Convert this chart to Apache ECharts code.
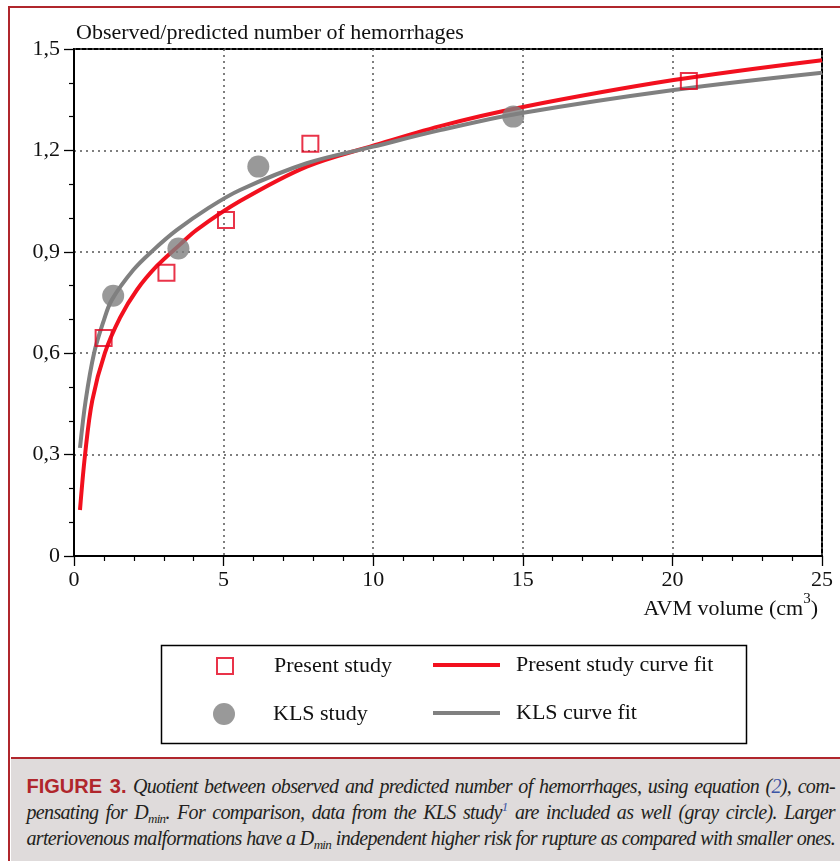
<!DOCTYPE html>
<html>
<head>
<meta charset="utf-8">
<script src="https://cdn.jsdelivr.net/npm/echarts@6/dist/echarts.min.js"></script>
<style>
  html, body { margin: 0; padding: 0; background: #ffffff; }
  #chart { position: absolute; left: 0; top: 0; width: 840px; height: 861px; }
  #frame { position: absolute; left: 8px; top: 5.5px; width: 900px; height: 900px;
           border-left: 2.5px solid #b0262c; border-top: 2.5px solid #b0262c; pointer-events: none; }
  #cap { position: absolute; left: 10.5px; top: 756.5px; width: 829.5px; height: 105px;
         background: #dfdbdb; border-top: 2.5px solid #b0262c; box-sizing: border-box;
         padding: 14px 5px 0 16px; color: #231f20; }
  .l { font-family: "Liberation Serif", "DejaVu Serif", serif; font-style: italic; font-size: 20px;
       line-height: 26px; height: 26px; white-space: nowrap; text-align: justify; text-align-last: justify; }
  .fig { font-family: "Liberation Sans", Arial, sans-serif; font-style: normal; font-weight: bold;
         color: #b0262c; font-size: 20px; letter-spacing: 0 !important; }
  .b { color: #3b55a5; }
  sub { font-size: 13px; vertical-align: -4px; line-height: 0; }
  sup { font-size: 13px; vertical-align: 8px; line-height: 0; }
</style>
</head>
<body>
<div id="chart"></div>
<div id="frame"></div>
<div id="cap">
  <div class="l"><span class="fig">FIGURE 3.</span> Quotient between observed and predicted number of hemorrhages, using equation (<span class="b">2</span>), com-</div>
  <div class="l">pensating for D<sub>min</sub>. For comparison, data from the KLS study<sup class="b">1</sup> are included as well (gray circle). Larger</div>
  <div class="l">arteriovenous malformations have a D<sub>min</sub> independent higher risk for rupture as compared with smaller ones.</div>
</div>
<script>
// ---- data ----
const xTickLabels = ['0', '5', '10', '15', '20', '25'];
const yTickLabels = ['0', '0,3', '0,6', '0,9', '1,2', '1,5'];

const presentX = [0.99, 3.09, 5.08, 7.9, 20.55];
const presentY = [0.645, 0.838, 0.994, 1.22, 1.405];

const klsX = [1.31, 3.49, 6.16, 14.68];
const klsY = [0.77, 0.91, 1.152, 1.30];

const presentFitX = [0.2, 0.37, 0.61, 1.03, 1.54, 2.1, 2.77, 3.55, 4.1, 5.55, 7.78, 10.0, 12.24, 14.92, 20.04, 25.0];
const presentFitY = [0.136, 0.30, 0.46, 0.60, 0.705, 0.787, 0.858, 0.922, 0.965, 1.05, 1.152, 1.214, 1.272, 1.327, 1.408, 1.467];

const klsFitX = [0.2, 0.39, 0.67, 1.0, 1.26, 1.98, 2.65, 3.43, 4.5, 5.55, 7.78, 10.0, 12.24, 14.92, 20.04, 25.0];
const klsFitY = [0.32, 0.46, 0.60, 0.698, 0.757, 0.846, 0.905, 0.964, 1.03, 1.083, 1.162, 1.211, 1.26, 1.31, 1.379, 1.43];

const zip = (xs, ys) => xs.map((x, i) => [x, ys[i]]);

const RED = '#f2101e';
const SQ = '#e3001b';
const GRAY = '#808080';
const SERIF = '"Liberation Serif", "DejaVu Serif", serif';
const FS = 22;

// caption: shrink letter spacing uniformly so the widest line fits, then justify
(function fitCaption() {
  const lines = Array.from(document.querySelectorAll('#cap .l'));
  const avail = lines[0].clientWidth;
  let ls = 0;
  lines.forEach(el => {
    const range = document.createRange();
    range.selectNodeContents(el);
    const w = range.getBoundingClientRect().width;
    const n = el.textContent.length;
    if (w > avail - 4) ls = Math.min(ls, (avail - 4 - w) / n);
  });
  lines.forEach(el => { el.style.letterSpacing = ls.toFixed(3) + 'px'; });
})();

const chart = echarts.init(document.getElementById('chart'), null, { renderer: 'canvas' });

const legendBase = {
  orient: 'horizontal', padding: 0, selectedMode: false,
  textStyle: { fontFamily: SERIF, fontSize: FS, color: '#111' }
};

chart.setOption({
  animation: false,
  backgroundColor: '#ffffff',
  grid: { left: 74, right: 18, top: 49, bottom: 305, show: true, borderColor: '#000', borderWidth: 2,
          backgroundColor: 'transparent', outerBoundsMode: 'none' },
  xAxis: {
    type: 'value', min: 0, max: 25, interval: 5,
    axisLine: { show: true, onZero: false, lineStyle: { color: '#000', width: 2 } },
    axisTick: { show: true, length: 10, lineStyle: { color: '#000', width: 1.3 } },
    minorTick: { show: true, splitNumber: 5, length: 5, lineStyle: { color: '#000', width: 1.2 } },
    splitLine: { show: true, lineStyle: { type: [2, 4], color: '#555', width: 1.5 } },
    axisLabel: { fontFamily: SERIF, fontSize: FS, color: '#111', margin: 13,
                 formatter: (v, i) => xTickLabels[i] },
    name: '{t|AVM volume (cm}{s|3}{t|)}',
    nameLocation: 'end', nameGap: -4, nameMoveOverlap: false,
    nameTextStyle: {
      align: 'right', verticalAlign: 'top', padding: [36, 0, 0, 0],
      rich: {
        t: { fontFamily: SERIF, fontSize: FS, color: '#111', lineHeight: 28, verticalAlign: 'bottom' },
        s: { fontFamily: SERIF, fontSize: 15, color: '#111', lineHeight: 15, verticalAlign: 'top' }
      }
    }
  },
  yAxis: {
    type: 'value', min: 0, max: 1.5, interval: 0.3,
    axisLine: { show: true, onZero: false, lineStyle: { color: '#000', width: 2 } },
    axisTick: { show: true, length: 10, lineStyle: { color: '#000', width: 1.3 } },
    minorTick: { show: true, splitNumber: 3, length: 5, lineStyle: { color: '#000', width: 1.2 } },
    splitLine: { show: true, lineStyle: { type: [2, 4], color: '#555', width: 1.5 } },
    axisLabel: { fontFamily: SERIF, fontSize: FS, color: '#111', margin: 14,
                 formatter: (v, i) => yTickLabels[i] },
    name: 'Observed/predicted number of hemorrhages',
    nameLocation: 'end', nameGap: 16, nameMoveOverlap: false,
    nameTextStyle: { fontFamily: SERIF, fontSize: FS, color: '#111', align: 'left', verticalAlign: 'middle',
                     padding: [0, 0, 0, 2] }
  },
  legend: [
    Object.assign({}, legendBase, {
      left: 216, top: 655, itemWidth: 16, itemHeight: 16,
      data: [{ name: 'Present study', icon: 'rect',
               itemStyle: { color: 'rgba(0,0,0,0)', borderColor: SQ, borderWidth: 2 } }],
      textStyle: Object.assign({}, legendBase.textStyle, { padding: [0, 0, 0, 36] })
    }),
    Object.assign({}, legendBase, {
      left: 433, top: 654, itemWidth: 67, itemHeight: 4,
      data: [{ name: 'Present study curve fit', icon: 'rect', itemStyle: { color: RED } }],
      textStyle: Object.assign({}, legendBase.textStyle, { padding: [0, 0, 0, 11] })
    }),
    Object.assign({}, legendBase, {
      left: 213, top: 703, itemWidth: 22, itemHeight: 22,
      data: [{ name: 'KLS study', icon: 'circle' }],
      textStyle: Object.assign({}, legendBase.textStyle, { padding: [0, 0, 0, 33] })
    }),
    Object.assign({}, legendBase, {
      left: 433, top: 702, itemWidth: 67, itemHeight: 4,
      data: [{ name: 'KLS curve fit', icon: 'rect', itemStyle: { color: GRAY } }],
      textStyle: Object.assign({}, legendBase.textStyle, { padding: [0, 0, 0, 11] })
    })
  ],
  graphic: [
    { type: 'rect', left: 159, top: 643, shape: { width: 585, height: 98 },
      style: { fill: 'none', stroke: '#000', lineWidth: 1.5 }, silent: true }
  ],
  series: [
    { name: 'Present study curve fit', type: 'line', smooth: 0.35, symbol: 'none', z: 2,
      data: zip(presentFitX, presentFitY), lineStyle: { color: RED, width: 4 }, itemStyle: { color: RED } },
    { name: 'KLS curve fit', type: 'line', smooth: 0.35, symbol: 'none', z: 3,
      data: zip(klsFitX, klsFitY), lineStyle: { color: GRAY, width: 4 }, itemStyle: { color: GRAY } },
    { name: 'Present study', type: 'scatter', symbol: 'rect', symbolSize: 16, z: 5,
      data: zip(presentX, presentY),
      itemStyle: { color: 'rgba(0,0,0,0)', borderColor: SQ, borderWidth: 2 } },
    { name: 'KLS study', type: 'scatter', symbol: 'circle', symbolSize: 22, z: 5,
      data: zip(klsX, klsY), itemStyle: { color: GRAY } }
  ]
});
</script>
</body>
</html>
